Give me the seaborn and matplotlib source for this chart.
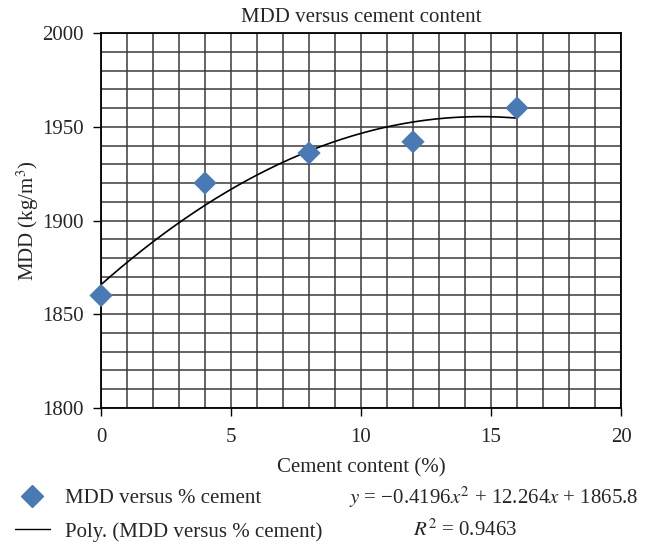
import numpy as np
import pandas as pd
import matplotlib
matplotlib.use("Agg")
import matplotlib.pyplot as plt
import seaborn as sns
from matplotlib.lines import Line2D

# Measured maximum dry density at each cement content
cement_pct = [0, 4, 8, 12, 16]
mdd = [1860, 1920, 1936, 1942, 1960]

# Second-order polynomial trend coefficients (a*x^2 + b*x + c) and fit quality
poly_coef = [-0.4196, 12.264, 1865.8]
r_squared = 0.9463

x_ticks = [0, 5, 10, 15, 20]
y_ticks = [1800, 1850, 1900, 1950, 2000]

FS = 15

sns.set_theme(style="white")
plt.rcParams["font.family"] = ["Liberation Serif", "DejaVu Serif"]
plt.rcParams["mathtext.fontset"] = "stix"

fig = plt.figure(figsize=(6.53, 5.45), dpi=100)
ax = fig.add_axes([0.1547, 0.2514, 0.7963, 0.688])

df = pd.DataFrame({"cement": cement_pct, "mdd": mdd})
xs = np.linspace(min(cement_pct), max(cement_pct), 200)
trend = pd.DataFrame({"cement": xs, "mdd": np.polyval(poly_coef, xs)})

sns.lineplot(data=trend, x="cement", y="mdd", ax=ax, color="black", lw=1.2, zorder=3)
sns.scatterplot(data=df, x="cement", y="mdd", ax=ax, marker="D", s=140,
                color="#4a7ab5", edgecolor="none", zorder=4, clip_on=False)

ax.set_xlim(0, 20)
ax.set_ylim(1800, 2000)
ax.set_xticks(x_ticks)
ax.set_yticks(y_ticks)
ax.set_xticks(np.arange(0, 21, 1), minor=True)
ax.set_yticks(np.arange(1800, 2001, 10), minor=True)
ax.grid(True, which="both", color="#3a3a3a", lw=1.1)
ax.set_axisbelow(True)
ax.tick_params(which="major", direction="out", length=6, width=1, color="black",
               labelsize=FS, left=True, bottom=True)
ax.tick_params(axis="x", which="major", pad=8.5)
ax.tick_params(axis="y", which="major", pad=6.5)
ax.tick_params(which="minor", length=0)
for side in ax.spines.values():
    side.set_color("black")
    side.set_linewidth(1.3)

ax.set_xlabel("Cement content (%)", fontsize=FS, labelpad=8)
ax.set_ylabel("MDD (kg/m$^3$)", fontsize=FS, labelpad=1)
ax.set_title("MDD versus cement content", fontsize=FS, pad=8)

handles = [
    Line2D([], [], marker="D", color="#4a7ab5", linestyle="none", markersize=11),
    Line2D([], [], color="black", lw=1.0),
]
fig.legend(handles, ["MDD versus % cement", "Poly. (MDD versus % cement)"],
           loc="upper left", bbox_to_anchor=(0.0, 0.13), frameon=False,
           fontsize=FS, handlelength=1.7, handletextpad=0.7, labelspacing=0.65,
           borderaxespad=0.3)

eq = (f"$y$ = \u2212{abs(poly_coef[0])}$x^2$ + {poly_coef[1]}$x$ + {poly_coef[2]}")
fig.text(0.978, 0.088, eq, ha="right", va="center", fontsize=FS)
fig.text(0.712, 0.027, f"$R^2$ = {r_squared}", ha="center", va="center", fontsize=FS)

fig.savefig("out.png", dpi=100)
